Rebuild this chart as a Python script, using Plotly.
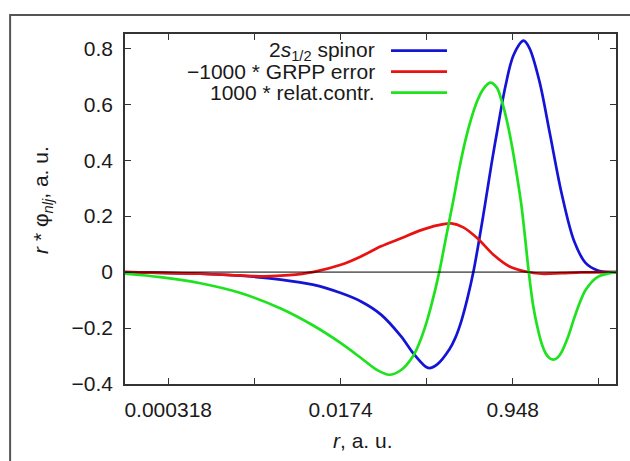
import plotly.graph_objects as go

# ---- data ----
r_blue = [1.166e-4, 6.72e-4, 1.706e-3, 4.33e-3, 9.13e-3, 0.01752, 0.02793, 0.04452, 0.07094,
          0.09376, 0.1241, 0.1361, 0.1641, 0.2170, 0.2496, 0.2871, 0.3302, 0.3795, 0.4365,
          0.5021, 0.5775, 0.6643, 0.8001, 0.9637, 1.217, 1.399, 1.766, 2.230, 2.951, 3.900,
          5.160, 6.828, 10.41]
y_blue = [0.0, -0.006, -0.013, -0.027, -0.045, -0.075, -0.105, -0.152, -0.23,
          -0.29, -0.337, -0.343, -0.33, -0.277, -0.235, -0.175, -0.095, 0.0, 0.12,
          0.25, 0.385, 0.51, 0.665, 0.775, 0.827, 0.80, 0.68, 0.5, 0.28, 0.115,
          0.032, 0.006, 0.0]

r_red = [1.166e-4, 6.72e-4, 1.706e-3, 2.98e-3, 5.22e-3, 9.13e-3, 0.01752, 0.02793, 0.04452,
         0.07094, 0.1130, 0.1641, 0.2274, 0.3006, 0.4169, 0.6053, 0.8781, 1.275, 1.851,
         2.951, 4.702, 10.41]
y_red = [0.0, -0.006, -0.012, -0.015, -0.011, 0.0, 0.026, 0.056, 0.092,
         0.121, 0.150, 0.167, 0.174, 0.160, 0.121, 0.062, 0.02, 0.002, -0.006,
         -0.004, -0.001, 0.0]

r_green = [1.166e-4, 2.645e-4, 6.72e-4, 1.706e-3, 4.33e-3, 9.13e-3, 0.01752, 0.02793, 0.04056,
           0.05362, 0.07094, 0.09376, 0.1078, 0.1241, 0.1427, 0.1719, 0.1977, 0.2381, 0.2739,
           0.3150, 0.3624, 0.4169, 0.4791, 0.5616, 0.6518, 0.7290, 0.8155, 0.9204, 1.039,
           1.162, 1.264, 1.374, 1.522, 1.687, 1.851, 2.032, 2.230, 2.447, 2.689, 2.951,
           3.394, 3.900, 4.487, 5.160, 6.828, 10.41]
y_green = [-0.006, -0.018, -0.04, -0.075, -0.13, -0.19, -0.254, -0.307, -0.35,
           -0.367, -0.35, -0.30, -0.255, -0.195, -0.12, 0.0, 0.11, 0.255, 0.37,
           0.47, 0.55, 0.613, 0.655, 0.677, 0.66, 0.615, 0.55, 0.46, 0.35,
           0.235, 0.12, 0.0, -0.12, -0.20, -0.255, -0.29, -0.308, -0.313, -0.305, -0.285,
           -0.235, -0.17, -0.11, -0.063, -0.017, 0.0]

x_tickvals = [0.000318, 0.0174, 0.948]
x_ticktext = ["0.000318", "0.0174", "0.948"]
x_minorvals = [0.00235, 0.1286, 7.005]
y_tickvals = [-0.4, -0.2, 0, 0.2, 0.4, 0.6, 0.8]
y_ticktext = ["\u22120.4", "\u22120.2", "0", "0.2", "0.4", "0.6", "0.8"]

names = ["2<i>s</i><sub>1/2</sub> spinor", "\u22121000 * GRPP error", "1000 * relat.contr."]
colors = ["#1414d6", "#e81212", "#1ee21e"]

FONT = "Liberation Sans, Arial, sans-serif"
FS = 21

fig = go.Figure()
fig.add_hline(y=0, line=dict(color="#000000", width=1))
for r, y, c in [(r_blue, y_blue, colors[0]), (r_red, y_red, colors[1]), (r_green, y_green, colors[2])]:
    fig.add_trace(go.Scatter(x=r, y=y, mode="lines", line=dict(color=c, width=2.7, shape="spline", smoothing=0.9),
                             showlegend=False, hoverinfo="skip"))

# custom gnuplot-style legend (text, then line sample to the right)
rows_y = [0.9523, 0.8923, 0.8323]
for nm, c, yy in zip(names, colors, rows_y):
    fig.add_annotation(xref="paper", yref="paper", x=0.5132, y=yy, text=nm, showarrow=False,
                       xanchor="right", yanchor="middle", font=dict(family=FONT, size=FS, color="#1a1a1a"))
    fig.add_shape(type="line", xref="paper", yref="paper", x0=0.5418, x1=0.6558, y0=yy, y1=yy,
                  line=dict(color=c, width=2.7))

# axis titles
fig.add_annotation(xref="paper", yref="paper", x=-0.169, y=0.526, textangle=-90, showarrow=False,
                   text="<i>r</i> * \u03c6<sub><i>nlj</i></sub>, a. u.", xanchor="center", yanchor="middle",
                   font=dict(family=FONT, size=FS, color="#1a1a1a"))
fig.add_annotation(xref="paper", yref="paper", x=0.485, y=-0.16, showarrow=False,
                   text="<i>r</i>, a. u.", xanchor="center", yanchor="middle",
                   font=dict(family=FONT, size=FS, color="#1a1a1a"))

# outer frame of the figure
fig.add_shape(type="rect", xref="paper", yref="paper", x0=-0.234, x1=1.2, y0=-0.4, y1=1.054,
              line=dict(color="#555555", width=2), layer="below")

axis_common = dict(showline=True, linecolor="#333333", linewidth=1.5, mirror="allticks",
                   ticks="inside", ticklen=6, tickwidth=1.2, tickcolor="#333333",
                   showgrid=False, zeroline=False,
                   tickfont=dict(family=FONT, size=FS, color="#1a1a1a"))

fig.update_xaxes(type="log", range=[-3.9334, 1.0176], tickmode="array", tickvals=x_tickvals,
                 ticktext=x_ticktext, ticklabelstandoff=6,
                 minor=dict(tickmode="array", tickvals=x_minorvals, ticks="inside", ticklen=6,
                            tickwidth=1.2, tickcolor="#333333", showgrid=False),
                 **axis_common)
fig.update_yaxes(range=[-0.4, 0.851], tickmode="array", tickvals=y_tickvals, ticktext=y_ticktext,
                 ticklabelstandoff=6, **axis_common)

fig.update_layout(width=630, height=461, margin=dict(l=125, r=14, t=34, b=77),
                  plot_bgcolor="white", paper_bgcolor="white",
                  font=dict(family=FONT, size=FS, color="#1a1a1a"))

fig.write_html("out.html")
